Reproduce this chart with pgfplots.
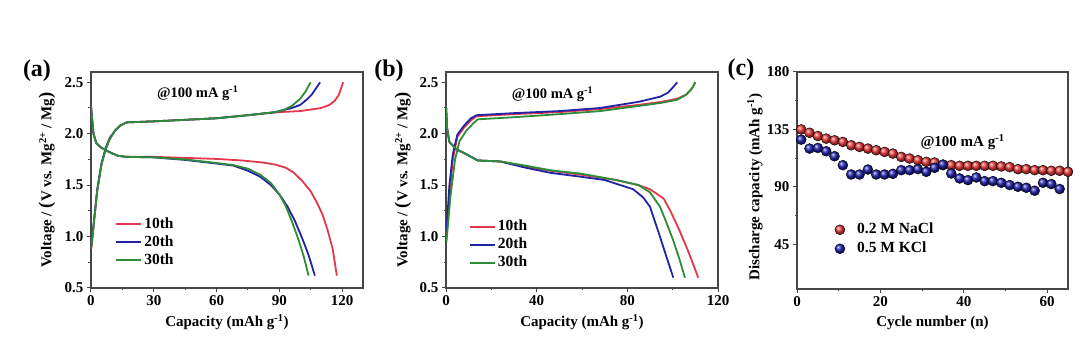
\documentclass[border=0pt]{standalone}
\usepackage{fontspec}
\setmainfont{Liberation Serif}
\usepackage{pgfplots}
\pgfplotsset{compat=1.18}

\definecolor{cred}{RGB}{228,55,75}
\definecolor{cblue}{RGB}{35,35,165}
\definecolor{cgreen}{RGB}{45,140,55}
\definecolor{bred}{RGB}{235,55,55}
\definecolor{bblue}{RGB}{30,30,175}
\definecolor{frame}{RGB}{70,70,70}

\newcommand{\bigp}[1]{{\fontsize{18.5}{18}\selectfont #1}}

\pgfplotsset{
  panel/.style={
    scale only axis, width=272pt, height=216pt,
    axis line style={frame, line width=1.1pt},
    tick style={frame, line width=1pt},
    major tick length=4pt, minor tick length=2.5pt,
    tick align=outside,
    xtick pos=bottom, ytick pos=left,
    /pgf/number format/assume math mode=true,
    ticklabel style={font=\fontsize{15}{17}\selectfont\bfseries},
    label style={font=\fontsize{15}{17}\selectfont\bfseries},
    xlabel style={at={(axis description cs:0.5,-0.157)}, anchor=center},
    legend cell align=left,
    legend style={draw=none, fill=none, inner sep=0pt,
      font=\fontsize{15.5}{17}\selectfont\bfseries,
      nodes={inner sep=2pt, text height=11pt, text depth=3pt}},
  },
  vcurve/.style={
    xmin=0, ymin=0.5, ymax=2.6,
    ytick={0.5,1.0,1.5,2.0,2.5}, minor y tick num=1,
    yticklabel style={/pgf/number format/.cd, fixed, fixed zerofill, precision=1},
    minor x tick num=1,
    xlabel={Capacity (mAh g\textsuperscript{-1})},
    ylabel={Voltage / \bigp{(}V vs. Mg\textsuperscript{2+} / Mg\bigp{)}},
    legend image code/.code={\draw[#1, line width=2pt] (0pt,0pt) -- (25pt,0pt);},
  },
  cv/.style={line width=1.8pt, line join=round},
}

\begin{document}
\begin{tikzpicture}
\useasboundingbox (0pt,0pt) rectangle (1080pt,355pt);

% ---------- (a)
\begin{axis}[panel, vcurve, at={(91pt,67pt)}, anchor=south west,
  xmax=130, xtick={0,30,60,90,120},
  ylabel style={at={(axis description cs:-0.162,0.5)}, anchor=center},
  legend style={at={(axis cs:11.5,1.21)}, anchor=north west}]
\addplot[cred, cv] coordinates {(0.2,0.88) (1.5,1.15) (3,1.45) (5,1.70) (7,1.85) (9,1.95) (11.5,2.03) (14,2.08) (17,2.11) (30,2.12) (45,2.135) (60,2.15) (75,2.18) (90,2.21) (95,2.215) (100,2.22) (105,2.235) (110,2.25) (114,2.28) (116.5,2.32) (118.5,2.38) (119.5,2.44) (120.5,2.5)};
\addlegendentry{10th}
\addplot[cblue, cv] coordinates {(0.2,0.92) (1.5,1.17) (3,1.46) (5,1.71) (7,1.86) (9,1.96) (11.5,2.03) (14,2.08) (17,2.11) (30,2.12) (45,2.135) (60,2.15) (75,2.18) (88,2.21) (92,2.23) (96,2.25) (100,2.28) (103,2.33) (105.5,2.38) (107.5,2.44) (109.5,2.5)};
\addlegendentry{20th}
\addplot[cgreen, cv] coordinates {(0.2,0.9) (1.5,1.16) (3,1.45) (5,1.70) (7,1.85) (9,1.95) (11.5,2.03) (14,2.08) (17,2.11) (30,2.12) (45,2.135) (60,2.15) (75,2.18) (88,2.21) (92,2.23) (96,2.27) (100,2.34) (102.5,2.41) (105,2.5)};
\addlegendentry{30th}
\addplot[cred, cv, forget plot] coordinates {(0,2.27) (0.5,2.15) (1.2,2.0) (2.5,1.91) (4.5,1.87) (7,1.84) (10,1.81) (13,1.785) (17,1.775) (30,1.775) (45,1.765) (60,1.755) (72,1.74) (82,1.72) (88,1.70) (93,1.67) (97,1.62) (101,1.54) (105,1.44) (108,1.33) (110.5,1.22) (113,1.07) (115.5,0.88) (117.5,0.62)};
\addplot[cblue, cv, forget plot] coordinates {(0,2.27) (0.5,2.15) (1.2,2.0) (2.5,1.91) (4.5,1.87) (7,1.84) (10,1.81) (13,1.785) (17,1.775) (30,1.77) (45,1.745) (60,1.71) (68,1.69) (75,1.64) (81,1.58) (86,1.50) (90,1.41) (94,1.29) (97.5,1.15) (101,0.98) (104,0.82) (107,0.62)};
\addplot[cgreen, cv, forget plot] coordinates {(0,2.27) (0.5,2.15) (1.2,2.0) (2.5,1.91) (4.5,1.87) (7,1.84) (10,1.81) (13,1.785) (17,1.775) (30,1.77) (45,1.75) (60,1.715) (68,1.695) (75,1.66) (81,1.60) (86,1.52) (90,1.41) (93,1.30) (96,1.15) (99,0.98) (101.5,0.82) (104,0.62)};
\node[font=\fontsize{14.5}{16}\selectfont\bfseries] at (axis cs:51,2.39) {@100 mA g\textsuperscript{-1}};
\end{axis}

% ---------- (b)
\begin{axis}[panel, vcurve, at={(446pt,67pt)}, anchor=south west,
  xmax=120, xtick={0,40,80,120},
  ylabel style={at={(axis description cs:-0.158,0.5)}, anchor=center},
  legend style={at={(axis cs:10,1.185)}, anchor=north west}]
\addplot[cred, cv] coordinates {(0.2,1.0) (1.5,1.4) (3,1.75) (5,1.97) (8,2.06) (11,2.13) (13.5,2.17) (30,2.19) (50,2.21) (68,2.24) (85,2.28) (95,2.31) (102,2.34) (106,2.38) (108.5,2.44) (110,2.5)};
\addlegendentry{10th}
\addplot[cblue, cv] coordinates {(0.2,1.05) (1.5,1.5) (3,1.8) (5,1.99) (8,2.08) (11,2.15) (13.5,2.18) (30,2.2) (50,2.22) (68,2.25) (85,2.31) (94.5,2.36) (98,2.4) (100.5,2.46) (102,2.5)};
\addlegendentry{20th}
\addplot[cgreen, cv] coordinates {(0.2,0.95) (2,1.4) (4,1.75) (6,1.93) (9,2.03) (12,2.1) (14,2.14) (30,2.16) (50,2.19) (68,2.22) (85,2.27) (95,2.30) (102,2.33) (106,2.38) (108.5,2.44) (110,2.5)};
\addlegendentry{30th}
\addplot[cred, cv, forget plot] coordinates {(0,2.27) (0.5,2.05) (1.5,1.92) (4.5,1.85) (9,1.80) (14,1.74) (24,1.73) (35,1.68) (46,1.64) (60,1.60) (75,1.55) (85,1.50) (90,1.46) (96,1.37) (99,1.25) (103,1.06) (107,0.85) (111.3,0.6)};
\addplot[cblue, cv, forget plot] coordinates {(0,2.27) (0.5,2.05) (1.5,1.92) (4.5,1.85) (9,1.80) (14,1.74) (24,1.73) (35,1.67) (46,1.62) (60,1.58) (70,1.55) (82.6,1.46) (87,1.38) (90,1.29) (94.4,1.0) (97.3,0.8) (100.3,0.6)};
\addplot[cgreen, cv, forget plot] coordinates {(0,2.27) (0.5,2.05) (1.5,1.92) (4.5,1.85) (9,1.80) (14,1.74) (24,1.73) (35,1.69) (46,1.645) (60,1.61) (75,1.55) (85,1.50) (90,1.43) (94.4,1.29) (97,1.15) (100.3,0.96) (103,0.78) (105.4,0.6)};
\node[font=\fontsize{14.5}{16}\selectfont\bfseries] at (axis cs:47,2.38) {@100 mA g\textsuperscript{-1}};
\end{axis}

% ---------- (c)
\begin{axis}[panel, at={(797pt,66pt)}, anchor=south west, width=271pt, height=217pt,
  xmin=0, xmax=65, ymin=10, ymax=180,
  xtick={0,20,40,60}, minor x tick num=1,
  ytick={45,90,135,180}, minor y tick num=1,
  xlabel={Cycle number (n)},
  ylabel={Discharge capacity (mAh g\textsuperscript{-1})},
  ylabel style={at={(axis description cs:-0.155,0.47)}, anchor=center},
  legend style={at={(axis cs:9,64)}, anchor=north west,
    nodes={inner sep=2pt, text height=11.5pt, text depth=3.5pt}}]
\addplot[only marks, mark=ball, mark size=5pt, mark options={ball color=bred}] coordinates {
(1,135) (3,132.4) (5,129.8) (7,127.8) (9,126.5) (11,125.2) (13,122.6) (15,121.3) (17,120.0) (19,118.7) (21,117.4) (23,116.1) (25,113.5) (27,112.2) (29,110.9) (31,109.6) (33,109.1) (35,107.0) (37,107.0) (39,106.5) (41,106.5) (43,106.5) (45,106.5) (47,106.5) (49,106.0) (51,105.5) (53,103.9) (55,103.9) (57,103.1) (59,103.1) (61,102.6) (63,102.6) (65,101.8)};
\addlegendentry{\hspace{10pt}0.2 M NaCl}
\addplot[only marks, mark=ball, mark size=5pt, mark options={ball color=bblue}] coordinates {
(1,127.0) (3,120.0) (5,120.5) (7,117.9) (9,114.0) (11,107.0) (13,99.7) (15,99.7) (17,103.6) (19,99.7) (21,99.7) (23,100.2) (25,103.1) (27,103.1) (29,103.9) (31,101.8) (33,104.9) (35,107.5) (37,100.5) (39,96.6) (41,95.3) (43,97.4) (45,94.5) (47,94.5) (49,93.2) (51,91.4) (53,90.1) (55,89.3) (57,87.0) (59,93.2) (61,92.2) (63,88.3)};
\addlegendentry{\hspace{10pt}0.5 M KCl}
\node[font=\fontsize{15}{17}\selectfont\bfseries] at (axis cs:39.7,125) {@100 mA g\textsuperscript{-1}};
\end{axis}

\node[font=\fontsize{24}{26}\selectfont\bfseries] at (37pt,284pt) {(a)};
\node[font=\fontsize{24}{26}\selectfont\bfseries] at (389pt,284pt) {(b)};
\node[font=\fontsize{24}{26}\selectfont\bfseries] at (741pt,285pt) {(c)};
\end{tikzpicture}
\end{document}
